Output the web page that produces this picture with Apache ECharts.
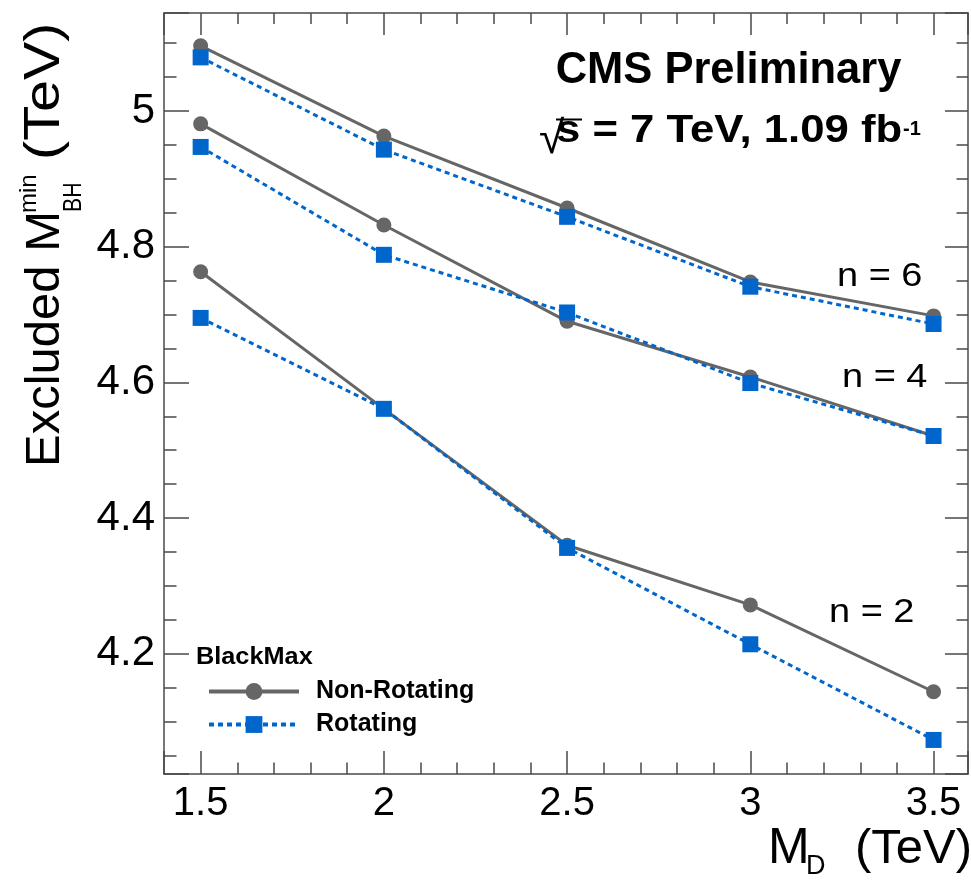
<!DOCTYPE html>
<html><head><meta charset="utf-8">
<script src="https://cdn.jsdelivr.net/npm/echarts@6/dist/echarts.min.js"></script>
<style>html,body{margin:0;padding:0;background:#fff}#c{width:971px;height:880px}</style>
</head><body><div id="c"></div>
<script>
// ---- data ----
const mD = [1.5, 2, 2.5, 3, 3.5];
const nonRotN6 = [5.096, 4.963, 4.857, 4.748, 4.698];
const rotN6    = [5.079, 4.943, 4.844, 4.741, 4.686];
const nonRotN4 = [4.981, 4.832, 4.690, 4.608, 4.521];
const rotN4    = [4.947, 4.788, 4.703, 4.599, 4.521];
const nonRotN2 = [4.763, 4.561, 4.360, 4.272, 4.144];
const rotN2    = [4.695, 4.561, 4.356, 4.214, 4.073];
const xTickLabels = ['1.5', '2', '2.5', '3', '3.5'];
const yTickLabels = ['4.2', '4.4', '4.6', '4.8', '5'];
const legendNames = ['Non-Rotating', 'Rotating'];
const nLabels = ['n = 6', 'n = 4', 'n = 2'];

const FONT = '"Liberation Sans", Arial, Helvetica, sans-serif';
const FRAME = '#4a4a4a';
const GRAY = '#666666';
const BLUE = '#0066cc';

function pick(list, v) {
  for (const l of list) if (Math.abs(parseFloat(l) - v) < 1e-6) return l;
  return '';
}
function pairs(ys) { return mD.map((x, i) => [x, ys[i]]); }

function axisCommon(major, minor, split) {
  return {
    axisLine: { show: true, onZero: false, lineStyle: { color: FRAME, width: 1.5 } },
    axisTick: { show: true, inside: true, length: major, lineStyle: { color: FRAME, width: 1.5 } },
    minorTick: { show: true, splitNumber: split, length: minor, lineStyle: { color: FRAME, width: 1.5 } },
    splitLine: { show: false }
  };
}
const X_MIN = 1.4, X_MAX = 3.594, Y_MIN = 4.0228, Y_MAX = 5.1444;

function nonRot(data) {
  return { name: legendNames[0], type: 'line', data: pairs(data), symbol: 'circle', symbolSize: 15,
    itemStyle: { color: GRAY }, lineStyle: { color: GRAY, width: 3 }, z: 2, animation: false };
}
function rot(data) {
  return { name: legendNames[1], type: 'line', data: pairs(data), symbol: 'rect', symbolSize: 16,
    itemStyle: { color: BLUE }, lineStyle: { color: BLUE, width: 3, type: [5, 4] }, z: 3, animation: false };
}

const s = (t, font, extra) => Object.assign({ text: t, font: font, fill: '#000', align: 'left', verticalAlign: 'middle' }, extra || {});

const option = {
  backgroundColor: '#fff',
  animation: false,
  grid: { left: 164, right: 1.5, top: 13, bottom: 106, containLabel: false },
  xAxis: [
    Object.assign({ type: 'value', position: 'bottom', min: X_MIN, max: X_MAX, splitNumber: 4,
      axisLabel: { show: true, margin: 10, color: '#000', fontSize: 40, fontFamily: FONT,
        formatter: v => pick(xTickLabels, v) } }, axisCommon(23, 11.5, 5)),
    Object.assign({ type: 'value', position: 'top', min: X_MIN, max: X_MAX, splitNumber: 4,
      axisLabel: { show: false } }, axisCommon(22, 11, 5))
  ],
  yAxis: [
    Object.assign({ type: 'value', position: 'left', min: Y_MIN, max: Y_MAX, splitNumber: 6,
      axisLabel: { show: true, margin: 9, color: '#000', fontSize: 42, fontFamily: FONT,
        formatter: v => pick(yTickLabels, v) } }, axisCommon(25, 12.5, 4)),
    Object.assign({ type: 'value', position: 'right', min: Y_MIN, max: Y_MAX, splitNumber: 6,
      axisLabel: { show: false } }, axisCommon(23, 11.5, 4))
  ],
  legend: {
    data: legendNames, orient: 'vertical', left: 202, top: 674, itemWidth: 90, itemHeight: 21, itemGap: 8,
    lineStyle: { width: 4 },
    textStyle: { fontSize: 25, fontWeight: 'bold', fontFamily: FONT, color: '#000', lineHeight: 23, padding: [0, 0, 0, 12] },
    selectedMode: false
  },
  series: [nonRot(nonRotN6), nonRot(nonRotN4), nonRot(nonRotN2), rot(rotN6), rot(rotN4), rot(rotN2)],
  graphic: [
    { type: 'text', x: 728.5, y: 71, style: s('CMS Preliminary', 'bold 43.5px ' + FONT, { align: 'center' }) },
    { type: 'text', x: 539, y: 140, style: s('√', 'normal 46px ' + FONT) },
    { type: 'line', shape: { x1: 556, y1: 119.5, x2: 582, y2: 119.5 }, style: { stroke: '#000', lineWidth: 2 } },
    { type: 'text', x: 556, y: 132, scaleX: 1.15, style: s('s = 7 TeV, 1.09 fb', 'bold 38px ' + FONT) },
    { type: 'text', x: 903, y: 129, style: s('-1', 'bold 20px ' + FONT) },
    { type: 'text', x: 837, y: 277, scaleX: 1.15, style: s(nLabels[0], 'normal 33px ' + FONT) },
    { type: 'text', x: 842, y: 378, scaleX: 1.15, style: s(nLabels[1], 'normal 33px ' + FONT) },
    { type: 'text', x: 829, y: 613, scaleX: 1.15, style: s(nLabels[2], 'normal 33px ' + FONT) },
    { type: 'text', x: 196, y: 658, scaleX: 1.1, style: s('BlackMax', 'bold 23px ' + FONT) },
    // x-axis title
    { type: 'text', x: 768, y: 849, style: s('M', 'normal 50px ' + FONT) },
    { type: 'text', x: 806, y: 867, style: s('D', 'normal 27px ' + FONT) },
    { type: 'text', x: 972, y: 849, style: s('(TeV)', 'normal 49px ' + FONT, { align: 'right' }) },
    // y-axis title (rotated)
    { type: 'group', x: 62, y: 463, rotation: Math.PI / 2, children: [
      { type: 'text', x: -4, y: -17, style: s('Excluded M', 'normal 49px ' + FONT) },
      { type: 'text', x: 251, y: 12.6, scaleX: 0.85, style: s('BH', 'normal 25px ' + FONT) },
      { type: 'text', x: 250, y: -32.4, style: s('min', 'normal 24px ' + FONT) },
      { type: 'text', x: 303, y: -17, scaleX: 1.15, style: s('(TeV)', 'normal 50px ' + FONT) }
    ] }
  ]
};
const chart = echarts.init(document.getElementById('c'), null, { renderer: 'canvas' });
chart.setOption(option);
</script>
</body></html>
